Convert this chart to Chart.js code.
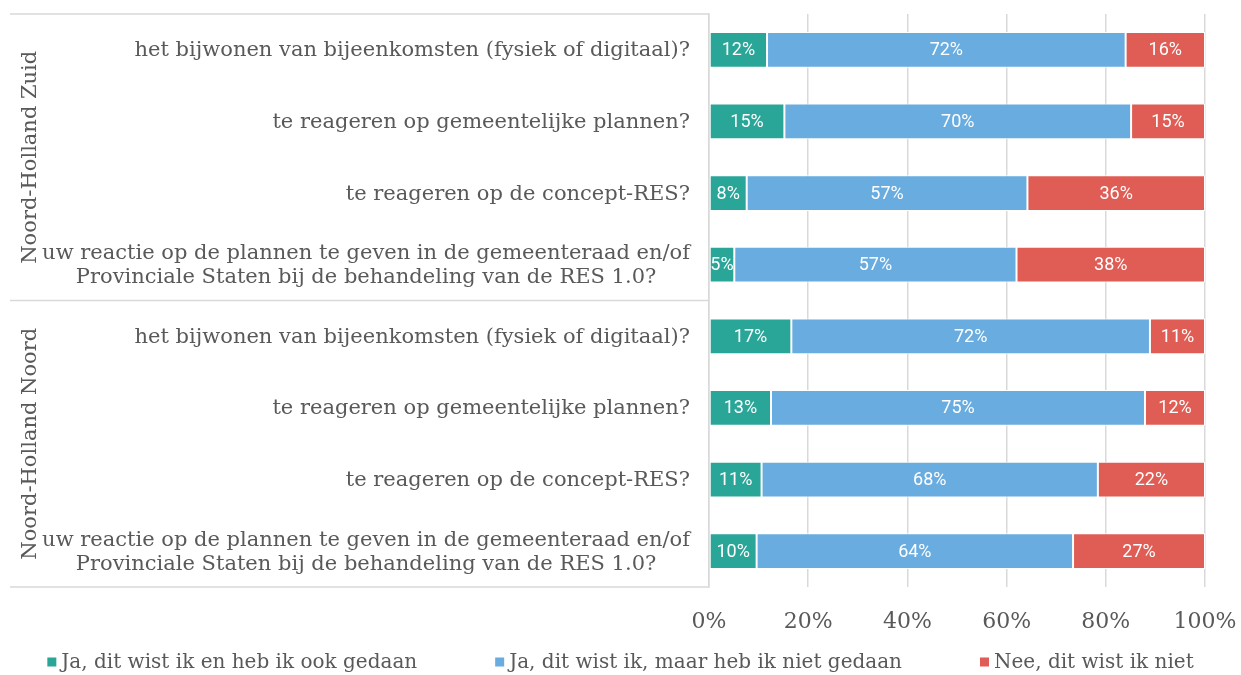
<!DOCTYPE html>
<html>
<head>
<meta charset="utf-8">
<script src="https://cdn.jsdelivr.net/npm/chart.js@4.4.1/dist/chart.umd.min.js"></script>
<style>
  html, body { margin: 0; padding: 0; background: #fff; }
  #wrap { width: 1241px; height: 675px; }
</style>
</head>
<body>
<div id="wrap"><canvas id="resChart"></canvas></div>
<script>
// categories, top to bottom
const categories = [
  'het bijwonen van bijeenkomsten (fysiek of digitaal)?',
  'te reageren op gemeentelijke plannen?',
  'te reageren op de concept-RES?',
  ['uw reactie op de plannen te geven in de gemeenteraad en/of', 'Provinciale Staten bij de behandeling van de RES 1.0?'],
  'het bijwonen van bijeenkomsten (fysiek of digitaal)?',
  'te reageren op gemeentelijke plannen?',
  'te reageren op de concept-RES?',
  ['uw reactie op de plannen te geven in de gemeenteraad en/of', 'Provinciale Staten bij de behandeling van de RES 1.0?']
];
const groups = ['Noord-Holland Zuid', 'Noord-Holland Noord'];
const groupSize = 4;

const seriesNames = ['Ja, dit wist ik en heb ik ook gedaan', 'Ja, dit wist ik, maar heb ik niet gedaan', 'Nee, dit wist ik niet'];
const jaGedaan    = [11.7, 15.2, 7.6, 5.1, 16.6, 12.5, 10.6, 9.6];
const jaNietGedaan = [72.3, 69.9, 56.6, 56.9, 72.3, 75.4, 67.8, 63.8];
const neeNiet     = [16.0, 14.9, 35.8, 38.0, 11.1, 12.1, 21.6, 26.6];
const xTicks = [0, 20, 40, 60, 80, 100];

const colors = ['#2aa698', '#69ace0', '#df5d54'];
const grey = '#595959';
const serif = '"DejaVu Serif", serif';

// white percentage labels inside each bar piece, clipped to the piece
const barLabels = {
  id: 'barLabels',
  afterDatasetsDraw(chart) {
    const ctx = chart.ctx;
    chart.data.datasets.forEach((ds, i) => {
      const meta = chart.getDatasetMeta(i);
      meta.data.forEach((bar, j) => {
        const left = Math.min(bar.x, bar.base), right = Math.max(bar.x, bar.base);
        const top = bar.y - bar.height / 2;
        ctx.save();
        ctx.beginPath();
        ctx.rect(left, top, right - left, bar.height);
        ctx.clip();
        ctx.fillStyle = '#fff';
        ctx.font = '18px Roboto';
        ctx.textAlign = 'center';
        ctx.textBaseline = 'middle';
        ctx.fillText(Math.round(ds.data[j]) + '%', (left + right) / 2, bar.y + 1);
        ctx.restore();
      });
    });
  }
};

// category labels, group frame and rotated group names on the left, legend below
const leftSide = {
  id: 'leftSide',
  afterDraw(chart) {
    const ctx = chart.ctx;
    const y = chart.scales.y;
    const area = chart.chartArea;
    const x0 = 10;
    ctx.save();
    // category labels: block right aligned, lines centred to each other
    ctx.font = '21px ' + serif;
    ctx.fillStyle = grey;
    ctx.textBaseline = 'middle';
    ctx.textAlign = 'center';
    categories.forEach((lab, i) => {
      const lines = Array.isArray(lab) ? lab : [lab];
      const w = Math.max(...lines.map(l => ctx.measureText(l).width));
      const cx = area.left - 19 - w / 2;
      const lh = 24;
      const cy = y.getPixelForValue(i) + 1;
      lines.forEach((l, k) => {
        ctx.fillText(l, cx, cy + (k - (lines.length - 1) / 2) * lh);
      });
    });
    // frame lines
    ctx.strokeStyle = '#d9d9d9';
    ctx.lineWidth = 1.5;
    const bounds = [y.top];
    for (let g = 1; g < groups.length; g++) {
      bounds.push((y.getPixelForValue(g * groupSize - 1) + y.getPixelForValue(g * groupSize)) / 2);
    }
    bounds.push(y.bottom);
    bounds.forEach(b => {
      ctx.beginPath();
      ctx.moveTo(x0, b);
      ctx.lineTo(area.left, b);
      ctx.stroke();
    });
    // rotated group names
    ctx.font = '21px ' + serif;
    groups.forEach((g, k) => {
      const cy = (bounds[k] + bounds[k + 1]) / 2;
      ctx.save();
      ctx.translate(31, cy);
      ctx.rotate(-Math.PI / 2);
      ctx.fillText(g, 0, 0);
      ctx.restore();
    });

    // legend
    ctx.font = '20px ' + serif;
    ctx.textAlign = 'left';
    const box = 9, gapBox = 5, gapItem = 78;
    const widths = seriesNames.map(n => box + gapBox + ctx.measureText(n).width);
    const total = widths.reduce((a, b) => a + b, 0) + gapItem * (seriesNames.length - 1);
    let lx = chart.width / 2 - total / 2;
    const ly = 662;
    seriesNames.forEach((n, i) => {
      ctx.fillStyle = colors[i];
      ctx.fillRect(lx, ly - box / 2, box, box);
      ctx.fillStyle = grey;
      ctx.fillText(n, lx + box + gapBox, ly + 1);
      lx += widths[i] + gapItem;
    });
    ctx.restore();
  }
};

const ctx = document.getElementById('resChart').getContext('2d');
new Chart(ctx, {
  type: 'bar',
  data: {
    labels: categories,
    datasets: [
      { label: seriesNames[0], data: jaGedaan, backgroundColor: colors[0] },
      { label: seriesNames[1], data: jaNietGedaan, backgroundColor: colors[1] },
      { label: seriesNames[2], data: neeNiet, backgroundColor: colors[2] }
    ].map(d => Object.assign(d, {
      borderColor: '#fff', borderWidth: 1, borderSkipped: false,
      categoryPercentage: 1, barPercentage: 0.5
    }))
  },
  options: {
    indexAxis: 'y',
    responsive: true,
    maintainAspectRatio: false,
    animation: false,
    layout: { padding: { left: 0, right: 36, top: 14, bottom: 40 } },
    scales: {
      x: {
        stacked: true,
        min: 0, max: 100,
        afterBuildTicks: s => { s.ticks = xTicks.map(v => ({ value: v })); },
        afterFit: s => { s.height = 48; s.paddingLeft = 0; s.paddingRight = 0; },
        grid: { color: '#d9d9d9', lineWidth: 1.5, drawTicks: false },
        border: { display: false },
        ticks: { callback: v => v + '%', color: grey, font: { family: serif, size: 22 }, padding: 22 }
      },
      y: {
        stacked: true,
        afterFit: s => { s.width = 709; },
        grid: { display: false },
        border: { display: true, color: '#d9d9d9', width: 1.5 },
        ticks: { display: false }
      }
    },
    plugins: {
      legend: { display: false },
      tooltip: { enabled: false }
    }
  },
  plugins: [barLabels, leftSide]
});
</script>
</body>
</html>
